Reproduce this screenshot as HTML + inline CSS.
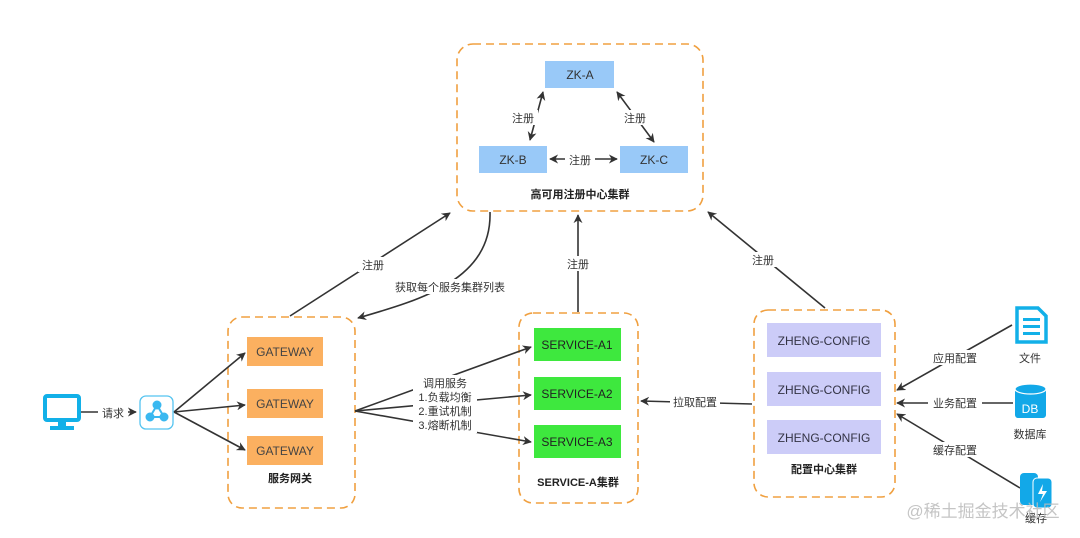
<!DOCTYPE html>
<html><head><meta charset="utf-8"><style>
html,body{margin:0;padding:0;background:#fff}
svg{display:block;font-family:"Liberation Sans","Noto Sans CJK SC",sans-serif}
</style></head><body>
<svg width="1080" height="538" viewBox="0 0 1080 538" xmlns="http://www.w3.org/2000/svg">
<defs>
<marker id="a" viewBox="0 0 10 10" refX="9" refY="5" markerWidth="9" markerHeight="9" orient="auto-start-reverse" markerUnits="userSpaceOnUse"><path d="M0,0 L10,5 L0,10 L3,5 z" fill="#333"/></marker>
</defs>
<g fill="none" stroke="#f0a040" stroke-width="1.6" stroke-dasharray="8,5">
<rect x="457" y="44" width="246" height="167" rx="16"/>
<rect x="228" y="317" width="127" height="191" rx="14"/>
<rect x="519" y="313" width="119" height="190" rx="14"/>
<rect x="754" y="310" width="141" height="187" rx="14"/>
</g>
<g fill="#99c9f8">
<rect x="545" y="61" width="69" height="27"/>
<rect x="479" y="146" width="68" height="27"/>
<rect x="620" y="146" width="68" height="27"/>
</g>
<g font-size="12" fill="#333" text-anchor="middle">
<text x="580" y="79">ZK-A</text><text x="513" y="164">ZK-B</text><text x="654" y="164">ZK-C</text>
</g>
<g fill="#fbb060"><rect x="247" y="337" width="76" height="29"/><rect x="247" y="389" width="76" height="29"/><rect x="247" y="436" width="76" height="29"/></g>
<g font-size="12" fill="#444" text-anchor="middle"><text x="285" y="356">GATEWAY</text><text x="285" y="408">GATEWAY</text><text x="285" y="455">GATEWAY</text></g>
<g fill="#3ee83e"><rect x="534" y="328" width="87" height="33"/><rect x="534" y="377" width="87" height="33"/><rect x="534" y="425" width="87" height="33"/></g>
<g font-size="12" fill="#222" text-anchor="middle"><text x="577" y="349">SERVICE-A1</text><text x="577" y="398">SERVICE-A2</text><text x="577" y="446">SERVICE-A3</text></g>
<g fill="#ccccf8"><rect x="767" y="323" width="114" height="34"/><rect x="767" y="372" width="114" height="34"/><rect x="767" y="420" width="114" height="34"/></g>
<g font-size="12" fill="#334" text-anchor="middle"><text x="824" y="345">ZHENG-CONFIG</text><text x="824" y="394">ZHENG-CONFIG</text><text x="824" y="442">ZHENG-CONFIG</text></g>
<g font-size="11" font-weight="bold" fill="#222" text-anchor="middle">
<text x="580" y="198">高可用注册中心集群</text><text x="290" y="482">服务网关</text><text x="578" y="486">SERVICE-A集群</text><text x="824" y="473">配置中心集群</text>
</g>
<g stroke="#333" stroke-width="1.6" fill="none">
<line x1="530" y1="140" x2="543" y2="92" marker-start="url(#a)" marker-end="url(#a)"/>
<line x1="654" y1="142" x2="617" y2="92" marker-start="url(#a)" marker-end="url(#a)"/>
<line x1="550" y1="159" x2="617" y2="159" marker-start="url(#a)" marker-end="url(#a)"/>
<line x1="290" y1="316" x2="450" y2="213" marker-end="url(#a)"/>
<path d="M490,212 C492,280 420,300 358,318" marker-end="url(#a)"/>
<line x1="578" y1="312" x2="578" y2="215" marker-end="url(#a)"/>
<line x1="825" y1="308" x2="708" y2="212" marker-end="url(#a)"/>
<line x1="80" y1="412" x2="136" y2="412" marker-end="url(#a)"/>
<line x1="174" y1="412" x2="245" y2="353" marker-end="url(#a)"/>
<line x1="174" y1="412" x2="245" y2="405" marker-end="url(#a)"/>
<line x1="174" y1="412" x2="245" y2="450" marker-end="url(#a)"/>
<line x1="355" y1="411" x2="531" y2="347" marker-end="url(#a)"/>
<line x1="355" y1="411" x2="531" y2="395" marker-end="url(#a)"/>
<line x1="355" y1="411" x2="531" y2="442" marker-end="url(#a)"/>
<line x1="752" y1="404" x2="641" y2="401" marker-end="url(#a)"/>
<line x1="1012" y1="325" x2="897" y2="390" marker-end="url(#a)"/>
<line x1="1013" y1="403" x2="897" y2="403" marker-end="url(#a)"/>
<line x1="1020" y1="488" x2="897" y2="414" marker-end="url(#a)"/>
</g>
<g font-size="11" fill="#333" text-anchor="middle">
<g fill="#fff" stroke="none">
<rect x="508" y="110" width="30" height="15"/><rect x="620" y="110" width="30" height="15"/><rect x="565" y="152" width="30" height="15"/>
<rect x="358" y="257" width="30" height="15"/><rect x="388" y="279" width="124" height="15"/><rect x="563" y="256" width="30" height="15"/><rect x="748" y="252" width="30" height="15"/>
<rect x="98" y="405" width="30" height="15"/><rect x="413" y="375" width="64" height="58"/><rect x="670" y="395" width="50" height="15"/>
<rect x="928" y="350" width="54" height="15"/><rect x="928" y="395" width="54" height="15"/><rect x="928" y="442" width="54" height="15"/>
</g>
<text x="523" y="122">注册</text><text x="635" y="122">注册</text><text x="580" y="164">注册</text>
<text x="373" y="269">注册</text><text x="450" y="291">获取每个服务集群列表</text><text x="578" y="268">注册</text><text x="763" y="264">注册</text>
<text x="113" y="417">请求</text>
<text x="445" y="387">调用服务</text><text x="445" y="401">1.负载均衡</text><text x="445" y="415">2.重试机制</text><text x="445" y="429">3.熔断机制</text>
<text x="695" y="406">拉取配置</text>
<text x="955" y="362">应用配置</text><text x="955" y="407">业务配置</text><text x="955" y="454">缓存配置</text>
<text x="1030" y="362">文件</text><text x="1030" y="438">数据库</text><text x="1036" y="522">缓存</text>
</g>
<!-- monitor -->
<rect x="45" y="396" width="34" height="24" rx="2" fill="none" stroke="#12b0e8" stroke-width="4"/>
<rect x="58" y="421" width="8" height="5" fill="#12b0e8"/><rect x="50" y="426" width="24" height="4" fill="#12b0e8"/>
<!-- share icon -->
<rect x="140" y="396" width="33" height="33" rx="6" fill="none" stroke="#55c4f0" stroke-width="1.3"/>
<g fill="#3ab8f0" stroke="#3ab8f0" stroke-width="2"><line x1="157" y1="405" x2="150" y2="417"/><line x1="157" y1="405" x2="164" y2="417"/><line x1="150" y1="417" x2="164" y2="417"/>
<circle cx="157" cy="405" r="3.5"/><circle cx="150" cy="417" r="3.5"/><circle cx="164" cy="417" r="3.5"/></g>
<!-- file -->
<path d="M1017,308 H1038 L1046,316 V342 H1017 Z" fill="none" stroke="#12b0e8" stroke-width="3.5"/>
<g fill="#12b0e8"><rect x="1023" y="318" width="17" height="3"/><rect x="1023" y="325" width="17" height="3"/><rect x="1023" y="332" width="17" height="3"/></g>
<!-- DB -->
<rect x="1015" y="388" width="31" height="30" rx="3" fill="#12a8e8"/>
<ellipse cx="1030.5" cy="389" rx="15.5" ry="5" fill="#12a8e8" stroke="#fff" stroke-width="1.2"/>
<text x="1030" y="413" font-size="12" fill="#fff" text-anchor="middle">DB</text>
<!-- cache -->
<rect x="1020" y="473" width="18" height="32" rx="4" fill="#12a8e8"/>
<rect x="1033" y="478" width="19" height="30" rx="4" fill="#12a8e8" stroke="#fff" stroke-width="1"/>
<path d="M1043,484 L1038,494 H1043 L1040,502 L1047,491 H1042 Z" fill="#fff"/>
<text x="983" y="517" font-size="17" fill="#bbb" fill-opacity="0.85" text-anchor="middle">@稀土掘金技术社区</text>
</svg>
</body></html>
